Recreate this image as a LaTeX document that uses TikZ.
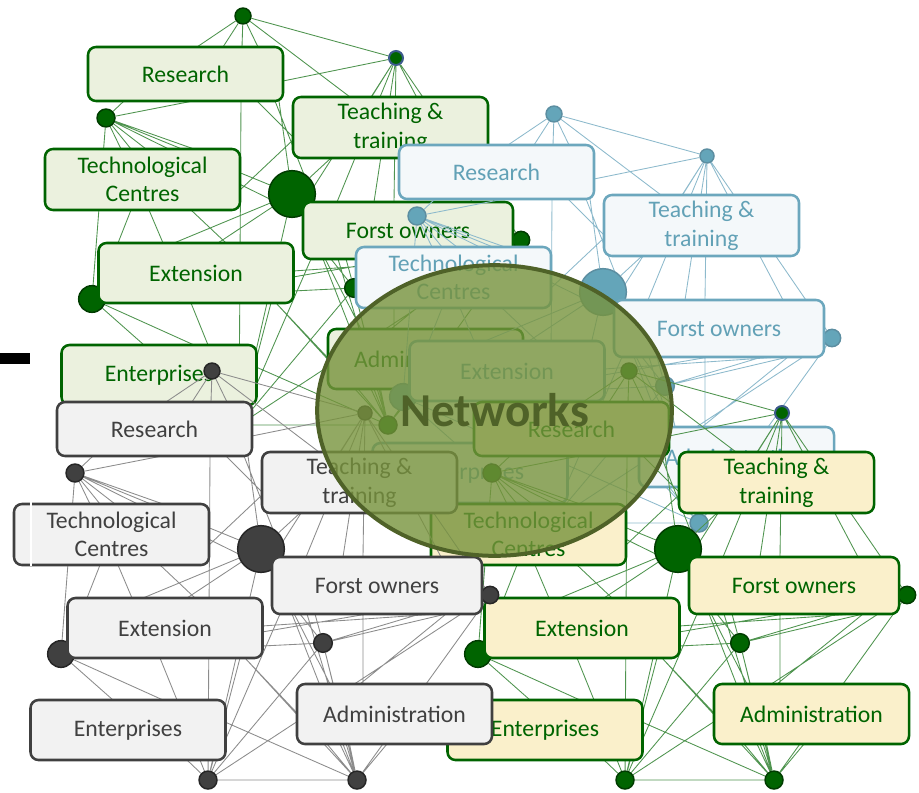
\documentclass[tikz,border=0pt]{standalone}
\usepackage{fontspec}
\setmainfont{Carlito}
\usetikzlibrary{calc,shapes.geometric}
\pgfdeclarelayer{eG}\pgfdeclarelayer{nG}
\pgfdeclarelayer{eB}\pgfdeclarelayer{nB}
\pgfdeclarelayer{eY}\pgfdeclarelayer{nY}
\pgfdeclarelayer{eK}\pgfdeclarelayer{nK}
\pgfsetlayers{eG,nG,eB,nB,eY,nY,eK,nK,main}
\definecolor{darkg}{HTML}{006400}
\definecolor{dotgb}{HTML}{003C00}
\definecolor{gfill}{HTML}{EBF1DE}
\definecolor{yfill}{HTML}{FAF0CB}
\definecolor{gedge}{HTML}{4F944F}
\definecolor{bfill}{HTML}{F4F8FA}
\definecolor{bdraw}{HTML}{6CA7BD}
\definecolor{btext}{HTML}{62A1B6}
\definecolor{bdot}{HTML}{64A5B9}
\definecolor{bedge}{HTML}{8DBACC}
\definecolor{kfill}{HTML}{F2F2F2}
\definecolor{kdraw}{HTML}{404040}
\definecolor{kedge}{HTML}{8C8C8C}
\definecolor{ttring}{HTML}{3C5A8C}
\definecolor{olivefill}{HTML}{77933C}
\definecolor{olivedark}{HTML}{4F6228}
\tikzset{
  netbox/.style={rectangle, rounded corners=6pt, line width=1.9pt, minimum width=146.25pt,
    inner sep=0pt, align=center, font=\fontsize{17.8pt}{21.5pt}\selectfont},
  boxG/.style={netbox, draw=darkg, fill=gfill, text=darkg},
  boxY/.style={netbox, draw=darkg, fill=yfill, text=darkg},
  boxB/.style={netbox, draw=bdraw, fill=bfill, text=btext},
  boxK/.style={netbox, draw=kdraw, fill=kfill, text=kdraw},
  netdot/.style={circle, inner sep=0pt, line width=1.1pt},
  dotG/.style={netdot, fill=darkg, draw=dotgb},
  dotY/.style={netdot, fill=darkg, draw=dotgb},
  dotB/.style={netdot, fill=bdot, draw=bdraw!85!black},
  dotK/.style={netdot, fill=kdraw, draw=black!85},
  ttG/.style={netdot, fill=darkg, draw=ttring, line width=1.5pt},
  ttY/.style={netdot, fill=darkg, draw=ttring, line width=1.5pt},
  ttB/.style={dotB},
  ttK/.style={dotK},
  edgeG/.style={draw=gedge, line width=0.65pt},
  edgeY/.style={draw=gedge, line width=0.65pt},
  edgeB/.style={draw=bedge, line width=0.65pt},
  edgeK/.style={draw=kedge, line width=0.65pt},
}
\newcommand\netcopy[3]{%
\begin{pgfonlayer}{n#3}
 \node[dot#3, minimum size=12pt]   (#3d1) at ({212+(#1)},{371+(#2)}) {};
 \node[tt#3,  minimum size=10.5pt] (#3d2) at ({365+(#1)},{413+(#2)}) {};
 \node[dot#3, minimum size=13.5pt] (#3d3) at ({75+(#1)},{473+(#2)}) {};
 \node[dot#3, minimum size=35pt]   (#3d4) at ({261+(#1)},{549+(#2)}) {};
 \node[dot#3, minimum size=20pt]   (#3d5) at ({61+(#1)},{654+(#2)}) {};
 \node[dot#3, minimum size=14pt]   (#3d6) at ({323+(#1)},{643+(#2)}) {};
 \node[dot#3, minimum size=13pt]   (#3d7) at ({490+(#1)},{595+(#2)}) {};
 \node[dot#3, minimum size=13.5pt] (#3d8) at ({208+(#1)},{780+(#2)}) {};
 \node[dot#3, minimum size=13.5pt] (#3d9) at ({357+(#1)},{780+(#2)}) {};
 \node[box#3, minimum height=40.5pt] (#3R) at ({154.5+(#1)},{429+(#2)}) {Research};
 \node[box#3, minimum height=45.75pt] (#3T) at ({359.5+(#1)},{482.5+(#2)}) {Teaching \&\\training};
 \node[box#3, minimum height=45.75pt] (#3C) at ({111.5+(#1)},{534.5+(#2)}) {Technological\\Centres};
 \node[box#3, minimum height=45pt] (#3E) at ({165+(#1)},{628+(#2)}) {Extension};
 \node[box#3, minimum height=42.75pt, minimum width=157.5pt] (#3F) at ({377+(#1)},{585.5+(#2)}) {Forst owners};
 \node[box#3, minimum height=45pt] (#3P) at ({128+(#1)},{730+(#2)}) {Enterprises};
 \node[box#3, minimum height=45pt] (#3A) at ({394.5+(#1)},{714+(#2)}) {Administration};
\end{pgfonlayer}
\begin{pgfonlayer}{e#3}
 \draw[edge#3]
  (#3d1) -- ($(#3R)+(11.5,-27)$)
  (#3d1) -- ($(#3R)+(37.5,-27)$)
  (#3d1) -- ($(#3R)+(56.5,-27)$)
  (#3d1) -- ($(#3R)+(72.5,-27)$)
  (#3d1) -- (#3d2)
  (#3d1) -- ($(#3T)+(-40.5,-30.5)$)
  (#3d2) -- ($(#3R)+(97.5,7)$)
  (#3d2) -- ($(#3F)+(-104,-28.5)$)
  (#3d2) -- ($(#3F)+(-71,-28.5)$)
  (#3d2) -- ($(#3T)+(-19,-30.5)$)
  (#3d2) -- ($(#3F)+(-34,-28.5)$)
  (#3d2) -- ($(#3F)+(-14,-28.5)$)
  (#3d2) -- (#3d7)
  (#3d2) -- ($(#3F)+(64,-28.5)$)
  (#3d3) -- ($(#3R)+(-61.5,27)$)
  (#3d3) -- ($(#3R)+(7.5,27)$)
  (#3d3) -- ($(#3C)+(-21.5,-30.5)$)
  (#3d3) -- ($(#3C)+(-11.5,-30.5)$)
  (#3d3) -- ($(#3C)+(3.5,-30.5)$)
  (#3d3) -- ($(#3C)+(51.5,-30.5)$)
  (#3d3) -- (#3d4)
  (#3d3) -- ($(#3F)+(-102,-13.5)$)
  (#3d3) -- (#3d5)
  (#3d4) -- ($(#3E)+(-22,-30)$)
  (#3d4) -- ($(#3E)+(22,-30)$)
  (#3d4) -- (#3d8)
  (#3d4) -- ($(#3R)+(93.5,27)$)
  (#3d4) -- ($(#3T)+(-59.5,30.5)$)
  (#3d4) -- ($(#3A)+(-64.5,-30)$)
  ($(#3R)+(89.5,27)$) -- ($(#3F)+(-92,-25.5)$)
  ($(#3C)+(97.5,10.5)$) -- ($(#3T)+(-97.5,12.5)$)
  ($(#3C)+(-11.5,30.5)$) -- ($(#3E)+(-78,-30)$)
  ($(#3C)+(6.5,30.5)$) -- ($(#3E)+(-33,-30)$)
  ($(#3C)+(48.5,30.5)$) -- ($(#3E)+(30,-30)$)
  ($(#3R)+(58.5,14)$) -- ($(#3T)+(-89.5,17.5)$)
  (#3d5) -- ($(#3P)+(-15,-30)$)
  (#3d5) -- ($(#3P)+(35,-30)$)
  ($(#3E)+(-5,30)$) -- ($(#3P)+(49,-30)$)
  ($(#3E)+(80,30)$) -- ($(#3A)+(-97.5,-1)$)
  ($(#3E)+(97,4)$) -- ($(#3F)+(-10,28.5)$)
  ($(#3E)+(97,-2)$) -- ($(#3F)+(60,28.5)$)
  ($(#3E)+(97,18)$) -- (#3d6)
  ($(#3P)+(97,-8)$) -- (#3d9)
  (#3d8) -- ($(#3P)+(59,30)$)
  (#3d8) -- ($(#3P)+(72,30)$)
  (#3d8) -- ($(#3R)+(55.5,27)$)
  (#3d8) -- ($(#3E)+(75,30)$)
  (#3d8) -- ($(#3F)+(-97,28.5)$)
  (#3d8) -- (#3d6)
  (#3d8) -- (#3d7)
  (#3d8) -- (#3d9)
  (#3d9) -- ($(#3A)+(-67.5,30)$)
  (#3d9) -- ($(#3A)+(-54.5,30)$)
  (#3d9) -- ($(#3A)+(-45,30)$)
  (#3d9) -- ($(#3A)+(-7.5,30)$)
  (#3d9) -- (#3d6)
  (#3d9) -- (#3d7)
  (#3d9) -- ($(#3E)+(80,30)$)
  (#3d9) -- ($(#3F)+(-85,28.5)$)
  (#3d9) -- ($(#3F)+(-70,28.5)$)
  (#3d6) -- ($(#3F)+(-77,28.5)$)
  (#3d6) -- ($(#3F)+(-62,28.5)$)
  (#3d6) -- ($(#3F)+(43,28.5)$)
  (#3d6) -- ($(#3F)+(69,28.5)$)
  (#3d6) -- ($(#3A)+(-61.5,-30)$)
  ($(#3F)+(-14,28.5)$) -- ($(#3A)+(-31.5,-30)$)
  ($(#3F)+(69,28.5)$) -- ($(#3A)+(-34.5,-30)$);
\end{pgfonlayer}}
\begin{document}
\begin{tikzpicture}[x=0.75pt,y=-0.75pt]
\useasboundingbox (0,0) rectangle (919,792);
\netcopy{31}{-355}{G}
\netcopy{342}{-257}{B}
\netcopy{417}{0}{Y}
\netcopy{0}{0}{K}
\fill[black] (0,353) rectangle (30,364);
\draw[white, line width=1.5pt] (31,502) -- (31,566);
\node[ellipse, minimum width=266pt, minimum height=218pt, inner sep=0pt,
  fill=olivefill, fill opacity=0.8, text opacity=1, draw=olivedark, line width=3pt,
  text=olivedark, font=\bfseries\fontsize{35.4pt}{40pt}\selectfont] (net) at (494.5,410.5) {Networks};
\end{tikzpicture}
\end{document}
